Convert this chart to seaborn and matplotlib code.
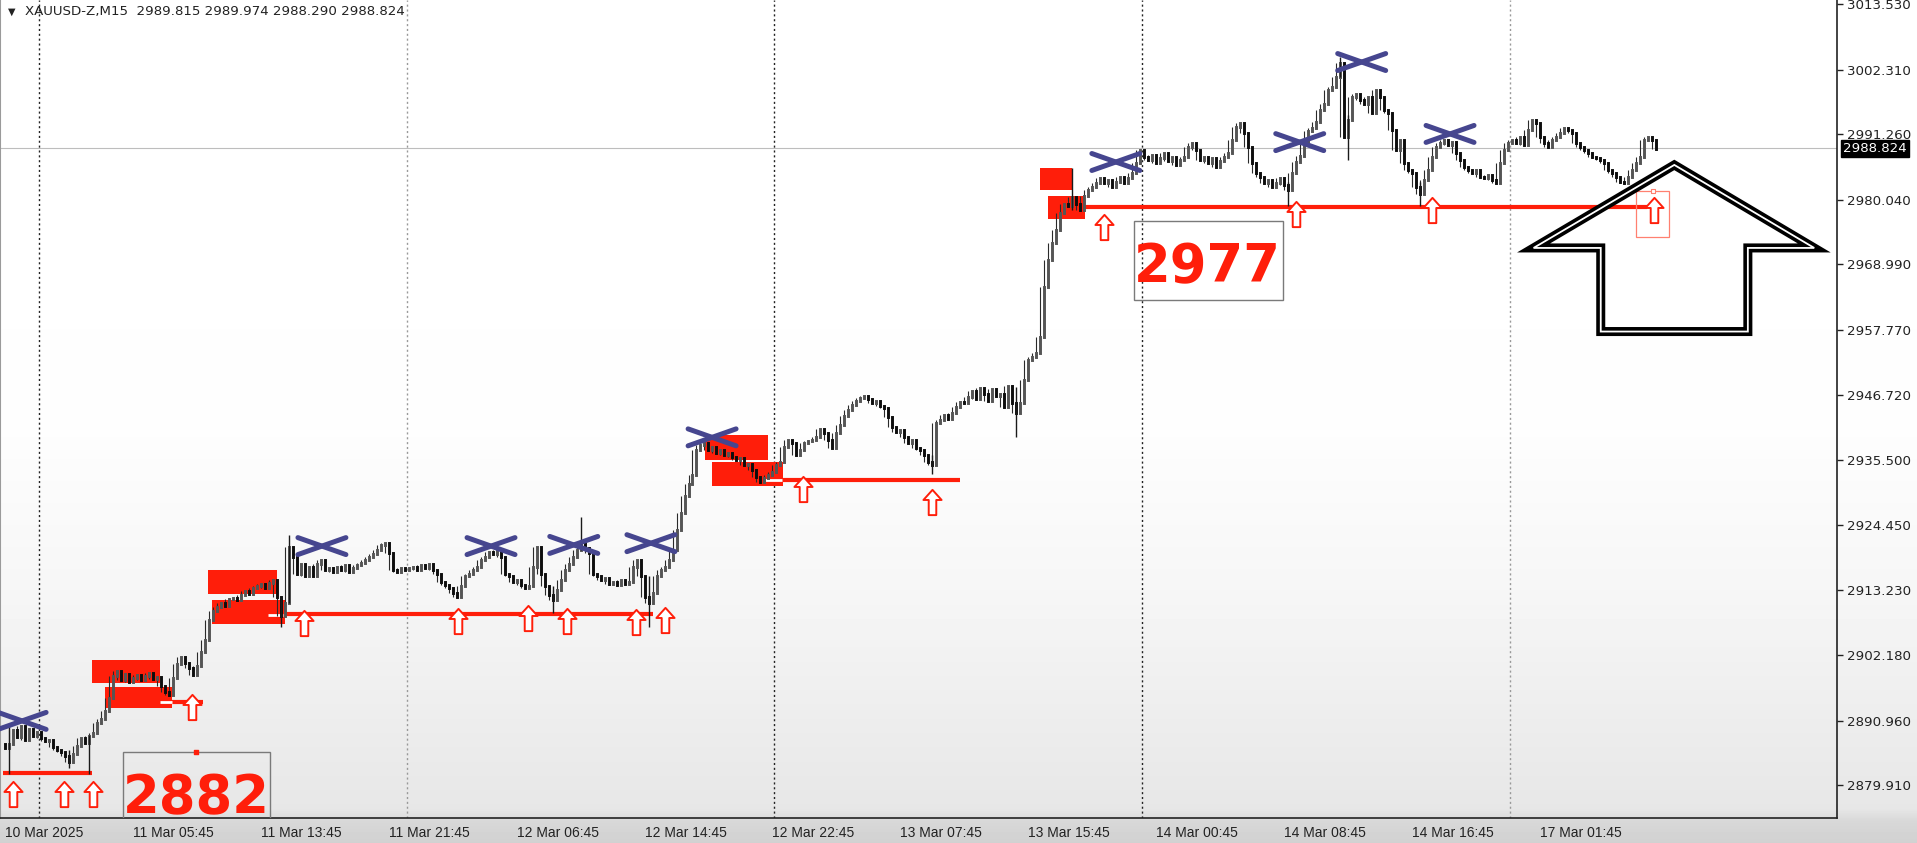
import numpy as np
import pandas as pd
import matplotlib
matplotlib.use("Agg")
import matplotlib.pyplot as plt
import matplotlib.transforms as mtrans
import seaborn as sns
from matplotlib.patches import Rectangle, Polygon
from matplotlib.path import Path

# ==========================================
# DATA
# ==========================================
# XAUUSD M15 closes, bar 0 = first bar on screen (10 Mar)
first_open = 2887.0
closes = [
    2886.2, 2887.0, 2889.4, 2888.1, 2890.0, 2887.6, 2889.5, 2888.3, 2889.0, 2888.0, 2887.4, 2887.6,
    2886.5, 2886.0, 2885.6, 2884.9, 2883.8, 2885.2, 2886.6, 2887.9, 2887.2, 2888.3, 2888.8, 2890.6,
    2891.3, 2892.6, 2894.8, 2898.6, 2899.4, 2897.9, 2899.0, 2897.5, 2898.3, 2898.8, 2897.9, 2898.6,
    2899.1, 2898.0, 2898.4, 2896.9, 2895.9, 2895.4, 2898.3, 2900.6, 2901.9, 2900.8, 2899.9, 2898.7,
    2900.3, 2902.6, 2904.8, 2908.1, 2909.7, 2910.4, 2911.1, 2910.6, 2911.7, 2912.0, 2911.5, 2912.5,
    2913.1, 2912.6, 2913.7, 2914.0, 2914.3, 2913.6, 2914.5, 2915.0, 2912.1, 2908.8, 2911.0, 2920.6,
    2919.0, 2916.1, 2917.8, 2915.6, 2917.3, 2915.7, 2917.8, 2918.4, 2916.7, 2917.0, 2916.4, 2917.3,
    2916.7, 2917.6, 2916.4, 2917.0, 2917.6, 2917.9, 2918.4, 2919.0, 2919.4, 2920.1, 2921.0, 2921.4,
    2919.6, 2916.7, 2916.4, 2917.0, 2916.7, 2917.0, 2917.3, 2916.7, 2917.6, 2917.0, 2917.8, 2916.7,
    2916.1, 2914.7, 2914.1, 2913.6, 2912.7, 2912.1, 2913.9, 2915.6, 2916.1, 2916.7, 2917.3, 2918.4,
    2919.0, 2919.8, 2919.5, 2920.1, 2919.0, 2916.1, 2915.6, 2914.7, 2915.0, 2914.1, 2913.6, 2913.9,
    2917.3, 2920.7, 2916.1, 2913.9, 2912.4, 2911.6, 2913.3, 2915.0, 2916.7, 2917.8, 2919.0, 2920.1,
    2921.3, 2920.4, 2919.6, 2916.1, 2915.6, 2915.0, 2915.3, 2914.4, 2914.7, 2914.1, 2915.0, 2914.4,
    2914.7, 2917.3, 2918.4, 2915.6, 2912.1, 2911.0, 2912.7, 2915.6, 2916.7, 2917.3, 2918.4, 2920.1,
    2923.5, 2926.5, 2929.3, 2931.5, 2933.0, 2937.2, 2938.1, 2938.4, 2937.2, 2937.8, 2936.7, 2937.2,
    2936.4, 2936.7, 2936.1, 2935.5, 2935.8, 2934.7, 2934.9, 2933.8, 2932.7, 2931.8, 2932.4, 2932.9,
    2933.5, 2934.7, 2935.2, 2937.8, 2938.9, 2938.4, 2936.4, 2937.2, 2938.4, 2938.7, 2938.9, 2939.5,
    2940.9, 2940.1, 2938.9, 2937.5, 2940.1, 2941.5, 2943.0, 2944.1, 2945.0, 2945.6, 2946.2, 2946.5,
    2945.9, 2945.3, 2945.6, 2944.8, 2944.4, 2942.9, 2941.2, 2940.4, 2940.7, 2939.5, 2938.4, 2939.0,
    2937.5, 2937.2, 2936.4, 2935.2, 2934.7, 2941.8, 2942.4, 2943.2, 2942.6, 2943.5, 2944.6, 2945.5,
    2945.2, 2946.3, 2947.4, 2946.0, 2947.9, 2946.8, 2945.7, 2947.6, 2946.5, 2946.9, 2944.6, 2948.1,
    2945.2, 2943.5, 2945.2, 2949.2, 2952.6, 2953.2, 2953.8, 2956.6, 2965.2, 2969.7, 2972.6, 2974.9,
    2977.7, 2979.4, 2978.9, 2980.5, 2979.4, 2978.3, 2980.6, 2981.7, 2982.3, 2982.9, 2983.7, 2982.9,
    2983.4, 2982.3, 2983.1, 2984.0, 2982.9, 2983.7, 2984.6, 2986.3, 2988.5, 2987.4, 2986.8, 2987.7,
    2986.3, 2987.1, 2988.0, 2986.6, 2987.4, 2986.0, 2986.8, 2987.4, 2989.1, 2989.7, 2988.6, 2986.8,
    2987.4, 2986.3, 2987.1, 2985.7, 2986.6, 2987.4, 2988.0, 2990.3, 2992.5, 2993.1, 2991.4, 2989.1,
    2986.3, 2984.6, 2984.0, 2982.9, 2983.4, 2982.3, 2982.9, 2983.7, 2982.6, 2981.7, 2984.6, 2986.5,
    2987.5, 2989.5, 2991.8, 2992.4, 2993.4, 2995.4, 2996.5, 2998.8, 2999.4, 3001.1, 3003.4, 2990.8,
    2993.7, 2997.7, 2998.2, 2997.1, 2996.5, 2997.7, 2994.8, 2998.8, 2997.7, 2995.4, 2994.8, 2992.0,
    2988.5, 2990.3, 2986.3, 2985.1, 2984.6, 2982.3, 2981.1, 2983.4, 2985.1, 2987.4, 2989.1, 2989.7,
    2990.3, 2989.4, 2990.0, 2988.0, 2986.8, 2985.7, 2985.1, 2984.6, 2985.1, 2984.0, 2983.7, 2984.3,
    2983.4, 2982.9, 2986.3, 2988.5, 2989.7, 2990.3, 2989.7, 2990.8, 2989.4, 2992.0, 2993.7, 2993.1,
    2990.8, 2989.7, 2989.1, 2990.3, 2990.8, 2991.4, 2992.3, 2992.0, 2991.4, 2989.7, 2989.1, 2988.5,
    2988.0, 2987.4, 2987.1, 2986.8, 2986.3, 2985.1, 2984.6, 2984.0, 2983.1, 2982.9, 2984.0, 2985.1,
    2986.3, 2987.4, 2990.3, 2990.8, 2990.3, 2988.8,
]
assert len(closes) == 414, len(closes)

# the long shadows that stick out of the band
wick_bar = [1, 16, 21, 69, 71, 137, 144, 161, 232, 253, 267, 321, 334, 336, 354]
wick_lo = [2881.9, 2882.9, 2881.9, 2907.0, 2911.0, 2909.3, 2920.1, 2907.0, 2933.2, 2939.5,
           2978.3, 2979.0, 3001.1, 2986.8, 2978.9]
wick_hi = [2890.0, 2886.0, 2888.5, 2912.1, 2922.7, 2913.9, 2925.8, 2915.6, 2936.4, 2948.0,
           2985.4, 2983.0, 3004.5, 2994.5, 2983.0]

tick_bars = [0, 32, 64, 96, 128, 160, 192, 224, 256, 288, 320, 352, 384]
tick_labels = ["10 Mar 2025", "11 Mar 05:45", "11 Mar 13:45", "11 Mar 21:45", "12 Mar 06:45",
               "12 Mar 14:45", "12 Mar 22:45", "13 Mar 07:45", "13 Mar 15:45", "14 Mar 00:45",
               "14 Mar 08:45", "14 Mar 16:45", "17 Mar 01:45"]
day_breaks = [9, 101, 193, 285, 377]
day_colors = ["#222222", "#999999", "#222222", "#222222", "#999999"]
price_ticks = [3013.53, 3002.31, 2991.26, 2980.04, 2968.99, 2957.77, 2946.72,
               2935.50, 2924.45, 2913.23, 2902.18, 2890.96, 2879.91]
last_price = 2988.824

# swing-high crosses
cross_bar = [4.3, 79.3, 121.6, 142.3, 161.6, 176.9, 277.9, 323.9, 339.4, 361.5]
cross_price = [2890.9, 2920.8, 2920.8, 2921.0, 2921.3, 2939.4, 2986.5, 2989.9, 3003.6, 2991.3]

# hollow up arrows
arrow_bar = [2.0, 14.8, 22.0, 46.8, 74.8, 113.3, 130.8, 140.6, 157.9, 165.1,
             199.6, 231.9, 274.9, 322.9, 357.0, 412.6]
arrow_price = [2878.4, 2878.4, 2878.4, 2893.3, 2907.6, 2908.0, 2908.5, 2908.0, 2907.8, 2908.2,
               2930.6, 2928.3, 2975.4, 2977.6, 2978.3, 2978.3]

# support lines
sup_start = [-0.5, 41.8, 70.1, 194.6, 269.7]
sup_end = [21.8, 49.6, 162.1, 238.9, 410.7]
sup_price = [2882.0, 2894.1, 2909.2, 2932.1, 2978.8]
stub_start = [38.8, 65.8, 190.1]
stub_end = [41.8, 69.6, 194.4]
stub_price = [2894.1, 2909.0, 2932.1]

# red zones
zone_x0 = [21.8, 25.0, 50.8, 51.8, 175.1, 176.9, 258.9, 260.9]
zone_x1 = [38.8, 41.8, 68.1, 70.1, 190.9, 194.6, 266.9, 270.2]
zone_lo = [2897.4, 2893.1, 2912.6, 2907.5, 2935.5, 2931.1, 2981.7, 2976.8]
zone_hi = [2901.3, 2896.7, 2916.7, 2911.6, 2939.8, 2935.2, 2985.5, 2980.7]

# level labels
label_text = ["2882", "2977"]
label_bar = [47.9, 300.9]
label_base = [2875.1, 2966.0]
box_x0 = [29.5, 282.4]
box_x1 = [66.3, 319.7]
box_lo = [2870.0, 2962.9]
box_hi = [2885.6, 2976.4]

# big hand-drawn arrow
big_bar = [417.6, 452.6, 436.0, 436.0, 399.2, 399.2, 382.4]
big_price = [2986.0, 2971.8, 2971.8, 2957.5, 2957.5, 2971.8, 2971.8]

# ==========================================
# FIGURE
# ==========================================
sns.set_style("white")
plt.rcParams['font.family'] = ['DejaVu Sans']

W, H = 1917, 843
RED = '#ff1e0a'
fig = plt.figure(figsize=(W / 100, H / 100), dpi=100)

# washed-out screen gradient behind everything
bg = fig.add_axes([0, 0, 1, 1])
grad = np.interp(np.linspace(0, 1, H), [0, 0.5, 0.7, 0.96, 0.975, 1.0],
                 [1.0, 0.995, 0.965, 0.905, 0.845, 0.82])
bg.imshow(grad[:, None], cmap='gray', vmin=0, vmax=1, aspect='auto', extent=[0, 1, 0, 1])
bg.set_xlim(0, 1)
bg.set_ylim(0, 1)
bg.axis('off')

ax = fig.add_axes([0, 25 / H, 1837 / W, 818 / H])
ax.patch.set_alpha(0)
ax.set_xlim(-1.23, 458.3)
ax.set_ylim(2874.29, 3014.21)

# zones
for x0, x1, lo, hi in zip(zone_x0, zone_x1, zone_lo, zone_hi):
    ax.add_patch(Rectangle((x0, lo), x1 - x0, hi - lo, facecolor=RED, edgecolor='none', zorder=1))

# current price line and day separators
ax.axhline(last_price, color='#bdbdbd', lw=0.8, zorder=0.8)
for b, c in zip(day_breaks, day_colors):
    ax.axvline(b - 0.5, color=c, lw=1.0, ls=(0, (1.5, 2.0)), zorder=0.9)

# support lines
ax.hlines(sup_price, sup_start, sup_end, color=RED, lw=3.0, zorder=2)
ax.hlines(stub_price, stub_start, stub_end, color='white', lw=2.0, zorder=2.1)

# candles: body from previous close to close, shadow spans the neighbouring closes
df = pd.DataFrame({"bar": np.arange(len(closes)), "close": closes})
df["open"] = [first_open] + closes[:-1]
df["next"] = closes[1:] + [closes[-1]]
df["lo"] = df[["open", "close", "next"]].min(axis=1)
df["hi"] = df[["open", "close", "next"]].max(axis=1)
ax.vlines(df["bar"], df["lo"], df["hi"], color='#2a2a2a', lw=0.8, zorder=2.9)
up = df["close"] >= df["open"]
dn = ~up
lc1 = ax.vlines(df.loc[up, "bar"], df.loc[up, "open"], df.loc[up, "close"],
                color='#555555', lw=2.1, zorder=3)
lc2 = ax.vlines(df.loc[dn, "bar"], df.loc[dn, "open"], df.loc[dn, "close"],
                color='#0d0d0d', lw=2.1, zorder=3)
for lc in (lc1, lc2):
    lc.set_capstyle('projecting')
ax.vlines(wick_bar, wick_lo, wick_hi, color='#1a1a1a', lw=1.0, zorder=3)

# crosses
for cx, cy in zip(cross_bar, cross_price):
    ax.plot([cx - 6, cx + 6], [cy + 1.45, cy - 1.45], color='#46468f', lw=3.6,
            solid_capstyle='round', zorder=4)
    ax.plot([cx - 6, cx + 6], [cy - 1.45, cy + 1.45], color='#46468f', lw=3.6,
            solid_capstyle='round', zorder=4)

# hollow arrows
arrow_marker = Path([(-0.15, -0.5), (0.15, -0.5), (0.15, 0.1), (0.36, 0.1), (0.0, 0.5),
                     (-0.36, 0.1), (-0.15, 0.1), (-0.15, -0.5)], closed=True)
sns.scatterplot(x=arrow_bar, y=arrow_price, marker=arrow_marker, s=330, color='white',
                edgecolor=RED, linewidth=1.4, legend=False, ax=ax, zorder=5)

# selected-arrow frame
ax.add_patch(Rectangle((408.0, 2973.7), 8.3, 7.8, fill=False, edgecolor='#ff8070', lw=0.9, zorder=5))
ax.scatter([412.15], [2981.5], marker='s', s=10, facecolor='white', edgecolor='#ff8070',
           lw=0.8, zorder=5.1)

# level labels
for t, xb, yb, x0, x1, lo, hi in zip(label_text, label_bar, label_base, box_x0, box_x1, box_lo, box_hi):
    ax.add_patch(Rectangle((x0, lo), x1 - x0, hi - lo, fill=False, edgecolor='#7a7a7a', lw=1.0, zorder=6))
    ax.text(xb, yb, t, color=RED, fontsize=38, fontweight='heavy', ha='center', va='baseline', zorder=6)
ax.scatter([47.9], [2885.6], marker='s', s=6, color=RED, zorder=6)

# big double-line arrow
pts = list(zip(big_bar, big_price))
ax.add_patch(Polygon(pts, closed=True, fill=False, edgecolor='black', lw=6.5,
                     joinstyle='miter', zorder=7))
ax.add_patch(Polygon(pts, closed=True, fill=False, edgecolor='white', lw=1.3,
                     joinstyle='miter', zorder=7.1))

# axes styling
ax.spines['top'].set_visible(False)
ax.spines['left'].set_color('#9a9a9a')
ax.spines['left'].set_linewidth(1.5)
ax.spines['bottom'].set_color('#222222')
ax.spines['right'].set_color('#222222')
ax.spines['bottom'].set_linewidth(1.2)
ax.spines['right'].set_linewidth(1.2)

ax.set_xticks(tick_bars)
ax.set_xticklabels(tick_labels, ha='left', fontsize=10, color='#222222', family='Liberation Sans')
ax.tick_params(axis='x', direction='out', length=4, width=1, pad=2, color='#222222')
ax.yaxis.tick_right()
ax.set_yticks(price_ticks)
ax.set_yticklabels([f"{v:.3f}" for v in price_ticks], fontsize=9.6, color='#222222')
ax.tick_params(axis='y', direction='out', length=4, width=1, pad=3, color='#222222')
ax.set_xlabel('')
ax.set_ylabel('')

# last price tag
tr = mtrans.blended_transform_factory(ax.transAxes, ax.transData)
ax.text(1.0035, last_price, f"{last_price:.3f}", transform=tr, ha='left', va='center',
        color='white', fontsize=9.6, clip_on=False, zorder=10,
        bbox=dict(facecolor='black', edgecolor='black', pad=1.5))

# header
fig.text(8 / W, 1 - 12 / H, "\u25bc", fontsize=7, va='center', color='#222222')
fig.text(25 / W, 1 - 12 / H, "XAUUSD-Z,M15  2989.815 2989.974 2988.290 2988.824",
         fontsize=9.6, va='center', color='#222222')

fig.savefig('out.png', dpi=100)
